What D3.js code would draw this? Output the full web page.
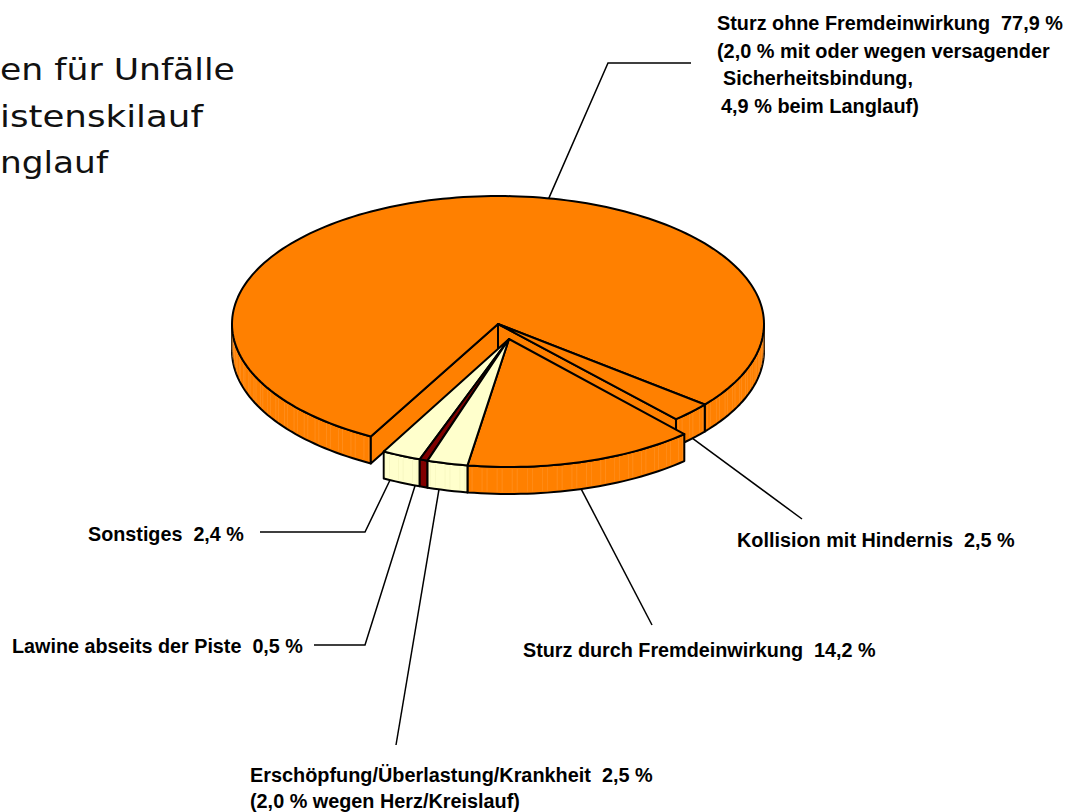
<!DOCTYPE html>
<html>
<head>
<meta charset="utf-8">
<script src="https://cdn.jsdelivr.net/npm/d3@7"></script>
<style>
  html, body { margin: 0; padding: 0; background: #fff; }
  svg { display: block; }
  .title { font-family: "DejaVu Sans", sans-serif; font-size: 30px; fill: #111; }
  .label { font-family: "Liberation Sans", Arial, sans-serif; font-size: 20.5px; font-weight: bold; fill: #000; white-space: pre; }
</style>
</head>
<body>
<svg id="chart" width="1072" height="812"></svg>
<script>
// Slices in drawing order, clockwise from the right side of the pie
const categories = ['Kollision mit Hindernis', 'Sturz durch Fremdeinwirkung', 'Erschöpfung/Überlastung/Krankheit', 'Lawine abseits der Piste', 'Sonstiges', 'Sturz ohne Fremdeinwirkung'];
const shares = [2.5, 14.2, 2.5, 0.5, 2.4, 77.9];
const sliceColours = ['#FF8000', '#FF8000', '#FFFFCC', '#800000', '#FFFFCC', '#FF8000'];
const detached = [false, true, true, true, true, false];

const titleLines = ['en für Unfälle', 'istenskilauf', 'nglauf'];
const titleWidths = [235, 203, 108];
const labelLines = [
  ['Kollision mit Hindernis  2,5 %'],
  ['Sturz durch Fremdeinwirkung  14,2 %'],
  ['Erschöpfung/Überlastung/Krankheit  2,5 %', '(2,0 % wegen Herz/Kreislauf)'],
  ['Lawine abseits der Piste  0,5 %'],
  ['Sonstiges  2,4 %'],
  ['Sturz ohne Fremdeinwirkung  77,9 %', '(2,0 % mit oder wegen versagender', 'Sicherheitsbindung,', '4,9 % beim Langlauf)']
];

// layout of the labels, same order as categories
const labelBoxes = [
  { x: 737, y: 547, widths: [278], step: 24 },
  { x: 523, y: 657, widths: [353], step: 24 },
  { x: 250, y: 782, widths: [403, 270], step: 26 },
  { x: 12, y: 653, widths: [291], step: 24 },
  { x: 88, y: 541, widths: [156], step: 24 },
  { x: 717, y: 30, widths: [346, 333, 190, 198], step: 27.7, shifts: [0, 0, 6, 4] }
];
const leaders = [
  { at: 43, to: [[802, 519]] },
  { at: 74, to: [[652, 625]] },
  { at: 105.5, to: [[396, 745]] },
  { at: 111, to: [[365, 645], [314, 645]] },
  { at: 117, to: [[365, 532], [260, 532]] },
  { at: 281, top: true, to: [[608, 63], [691, 63]] }
];

const ry = 128, depth = 27;
const mainCentre = { x: 498, y: 324, rx: 266 };
const offCentre = { x: 509, y: 339, rx: 262 };
const lineWidth = 2;

const svg = d3.select('#chart');
const rad = d => d * Math.PI / 180;

// pie angles run from 12 o'clock, the wedge starts 39 deg below the right side
const pie = d3.pie().sort(null).value(d => d).startAngle(rad(129)).endAngle(rad(129 + 360));
const arcs = pie(shares);

function point(c, t, drop) {
  return [c.x + c.rx * Math.cos(t), c.y + ry * Math.sin(t) + (drop || 0)];
}

function arcPoints(c, t0, t1, drop) {
  const n = Math.max(2, Math.ceil(Math.abs(t1 - t0) / rad(1.5)));
  return d3.range(n + 1).map(i => point(c, t0 + (t1 - t0) * i / n, drop));
}

const line = d3.line();

function outlined(g, d, colour) {
  g.append('path')
    .attr('d', d)
    .attr('fill', colour).attr('stroke', '#000').attr('stroke-width', lineWidth).attr('stroke-linejoin', 'round');
}

function drawWall(g, c, t0, t1, colour) {
  const top = arcPoints(c, t0, t1, 0);
  const bottom = arcPoints(c, t1, t0, depth);
  outlined(g, line(top.concat(bottom)) + 'Z', colour);
  // faint banding on the side
  if (colour !== '#800000') {
    const streak = colour === '#FF8000' ? '#FFA64D' : '#EDEDB0';
    d3.range(t0 + rad(0.6), t1, rad(1.1)).forEach((t, i) => {
      if (i % 3 === 2) return;
      const p = point(c, t, 2);
      g.append('line').attr('x1', p[0]).attr('x2', p[0]).attr('y1', p[1]).attr('y2', p[1] + depth - 4)
        .attr('stroke', streak).attr('stroke-width', 0.5).attr('opacity', 0.7);
    });
  }
}

function drawCut(g, c, t, colour) {
  const p = point(c, t, 0);
  const centre = [c.x, c.y];
  outlined(g, line([centre, p, [p[0], p[1] + depth], [c.x, c.y + depth]]) + 'Z', colour);
}

function drawTop(g, c, t0, t1, colour) {
  outlined(g, line([[c.x, c.y]].concat(arcPoints(c, t0, t1, 0))) + 'Z', colour);
}

const pieGroup = svg.append('g');
const slices = arcs.map((a, i) => ({
  t0: a.startAngle - Math.PI / 2,
  t1: a.endAngle - Math.PI / 2,
  colour: sliceColours[i],
  c: detached[i] ? offCentre : mainCentre
}));

// big slice first, it sits behind everything
const main = slices[5];
drawWall(pieGroup, main.c, main.t0, rad(180), main.colour);
drawWall(pieGroup, main.c, rad(360), main.t1, main.colour);
drawCut(pieGroup, main.c, main.t0, main.colour);
drawTop(pieGroup, main.c, main.t0, main.t1, main.colour);

// small slice still attached to the pie
const kol = slices[0];
drawCut(pieGroup, kol.c, kol.t1, kol.colour);
drawWall(pieGroup, kol.c, kol.t0, kol.t1, kol.colour);
drawTop(pieGroup, kol.c, kol.t0, kol.t1, kol.colour);

// pulled out slices, back to front
[1, 4, 3, 2].forEach(i => {
  const s = slices[i];
  drawWall(pieGroup, s.c, s.t0, s.t1, s.colour);
  drawTop(pieGroup, s.c, s.t0, s.t1, s.colour);
});

// leader lines
leaders.forEach((l, i) => {
  const start = point(slices[i].c, rad(l.at), l.top ? 0 : depth);
  svg.append('path')
    .attr('d', line([start].concat(l.to)))
    .attr('fill', 'none').attr('stroke', '#000').attr('stroke-width', 1.5);
});

// the original text is condensed, so squeeze each line to its measured width
function fittedText(cls, txt, x, y, width) {
  const t = svg.append('text').attr('class', cls).text(txt);
  const sx = width / t.node().getComputedTextLength();
  t.attr('transform', `translate(${x},${y}) scale(${sx},1)`);
}

labelLines.forEach((lines, i) => {
  const box = labelBoxes[i];
  lines.forEach((txt, j) => {
    fittedText('label', txt, box.x + (box.shifts ? box.shifts[j] : 0), box.y + j * box.step, box.widths[j]);
  });
});

// title, cut off at the left edge of the page
titleLines.forEach((txt, j) => {
  fittedText('title', txt, 0, 80 + j * 46.5, titleWidths[j]);
});
</script>
</body>
</html>
